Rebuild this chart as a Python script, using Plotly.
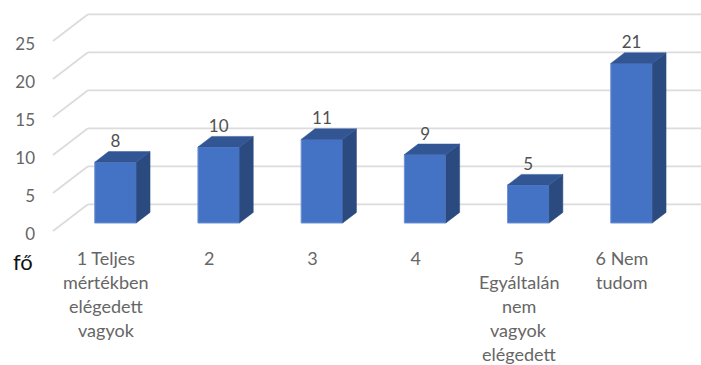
import plotly.graph_objects as go

categories = [
    ["1 Teljes", "mértékben", "elégedett", "vagyok"],
    ["2"],
    ["3"],
    ["4"],
    ["5", "Egyáltalán", "nem", "vagyok", "elégedett"],
    ["6 Nem", "tudom"],
]
values = [8, 10, 11, 9, 5, 21]
y_ticks = [0, 5, 10, 15, 20, 25]
y_title = "fő"

FONT = "Lato"
TICK_COL = "#666666"
W, H = 701, 365
ML, MB = 38, 129
PX_X, PX_Y = 103.2, 7.6          # pixels per category / per unit
X0_PX, Y0_PX = 115.5, 223.0      # pixel position of first bar centre / of value 0
bar_w = 41.5 / PX_X
dx, dy = 13.8 / PX_X, 10.6 / PX_Y  # bar depth
front_y, back_y = -8 / PX_Y, 18.7 / PX_Y
grid_x = [(53 - X0_PX) / PX_X, (88 - X0_PX) / PX_X, (W - X0_PX) / PX_X]

fig = go.Figure()

# front faces
xs = list(range(len(values)))
fig.add_trace(go.Bar(x=xs, y=values, width=bar_w, marker=dict(color="#4472C4", line=dict(color="#6f93d3", width=1))))

# side and top faces
for i, v in zip(xs, values):
    r, l = i + bar_w / 2, i - bar_w / 2
    fig.add_trace(go.Scatter(x=[r, r + dx, r + dx, r, r], y=[0, dy, v + dy, v, 0], mode="lines",
                             fill="toself", fillcolor="#2A4A80", hoverinfo="skip",
                             line=dict(color="#2A4A80", width=0.5)))
    fig.add_trace(go.Scatter(x=[l, r, r + dx, l + dx, l], y=[v, v, v + dy, v + dy, v], mode="lines",
                             fill="toself", fillcolor="#325594", hoverinfo="skip",
                             line=dict(color="#325594", width=0.5)))

# data labels
fig.add_trace(go.Scatter(x=xs, y=[v + dy + 1.15 for v in values], mode="text", text=[str(v) for v in values],
                         textposition="middle center", hoverinfo="skip", cliponaxis=False,
                         textfont=dict(family=FONT, size=17, color="#505050")))

# oblique gridlines, under the bars
shapes = []
for v in y_ticks:
    for (x0, y0, x1, y1) in [(grid_x[0], v + front_y, grid_x[1], v + back_y),
                             (grid_x[1], v + back_y, grid_x[2], v + back_y)]:
        shapes.append(dict(type="line", xref="x", yref="y", x0=x0, y0=y0, x1=x1, y1=y1, layer="below",
                           line=dict(color="#dcdcdc", width=1.8)))

# x labels: the first line on the axis, further lines with wider spacing
label_off = -9.5 / PX_X
annotations = []
for i, lines in enumerate(categories):
    for n, line in enumerate(lines[1:], start=1):
        annotations.append(dict(x=i + label_off, xref="x", y=0, yref="paper", yanchor="middle", xanchor="center",
                                yshift=-(258 - (H - MB)) - 23.9 * n, text=line, showarrow=False,
                                font=dict(family=FONT, size=18, color=TICK_COL)))
annotations.append(dict(x=0, xref="paper", xshift=-ML + 11, xanchor="left", y=0, yref="paper", yanchor="middle",
                        yshift=-(261 - (H - MB)), text=y_title, showarrow=False,
                        font=dict(family=FONT, size=22, color="#111111")))

fig.update_layout(
    width=W, height=H, margin=dict(l=ML, r=0, t=0, b=MB, pad=0),
    paper_bgcolor="white", plot_bgcolor="white", showlegend=False, annotations=annotations, shapes=shapes,
    xaxis=dict(range=[(ML - X0_PX) / PX_X, (W - X0_PX) / PX_X], showgrid=False, zeroline=False, showline=False,
               tickmode="array", tickvals=[i + label_off for i in xs], ticktext=[c[0] for c in categories],
               ticks="", ticklabelstandoff=10, tickfont=dict(family=FONT, size=18, color=TICK_COL)),
    yaxis=dict(range=[(Y0_PX - (H - MB)) / PX_Y, Y0_PX / PX_Y], showgrid=False, zeroline=False, showline=False,
               tickmode="array", tickvals=[v + front_y - 0.4 for v in y_ticks], ticktext=[str(v) for v in y_ticks],
               ticks="", ticklabelstandoff=2, tickfont=dict(family=FONT, size=17, color=TICK_COL)),
)
fig.write_html("out.html", post_script="document.body.style.margin='0';", config={"displayModeBar": False})
